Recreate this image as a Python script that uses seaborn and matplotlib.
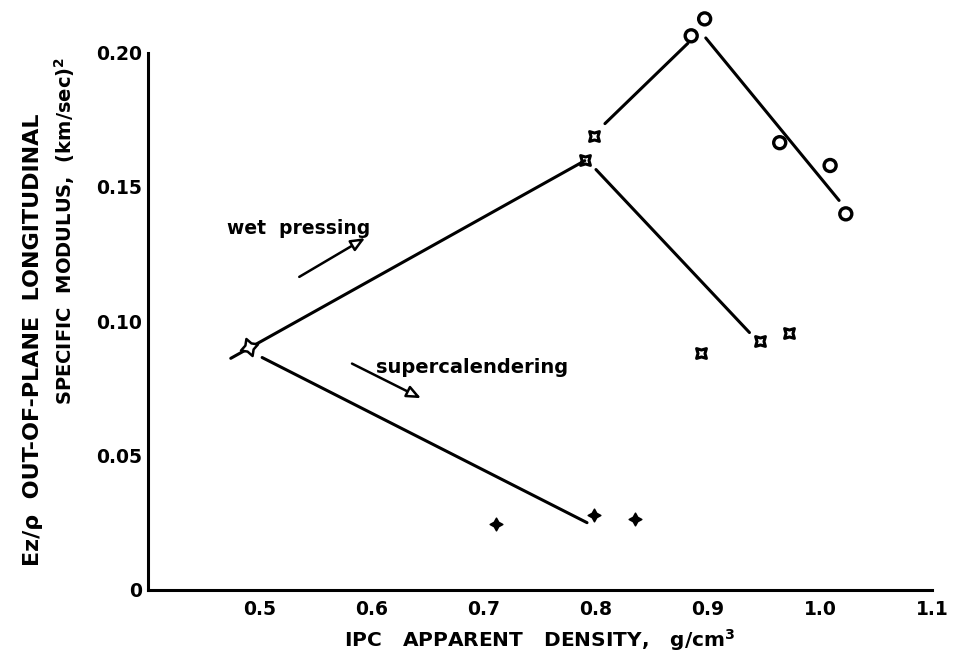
import matplotlib
matplotlib.use("Agg")
import matplotlib.pyplot as plt
import seaborn as sns
import pandas as pd

circle_x = [0.885, 0.897, 0.964, 1.009, 1.023]
circle_y = [0.2063, 0.2126, 0.1665, 0.1580, 0.1400]

cross_x = [0.790, 0.798, 0.894, 0.946, 0.972]
cross_y = [0.1600, 0.1690, 0.0880, 0.0925, 0.0958]

plus_x = [0.711, 0.798, 0.835]
plus_y = [0.0245, 0.0278, 0.0262]

start_x = [0.490]
start_y = [0.0905]

# hand-drawn trend lines (x pairs, y pairs)
wet_line_x = [0.474, 0.790]
wet_line_y = [0.0862, 0.1598]
wet_upper_x = [0.808, 0.882]
wet_upper_y = [0.1736, 0.2035]
super_line_x = [0.502, 0.792]
super_line_y = [0.0865, 0.0250]
circle_line_x = [0.898, 1.017]
circle_line_y = [0.2055, 0.1450]
cross_line_x = [0.800, 0.937]
cross_line_y = [0.1565, 0.0958]

x_ticks = [0.5, 0.6, 0.7, 0.8, 0.9, 1.0, 1.1]
x_labels = ["0.5", "0.6", "0.7", "0.8", "0.9", "1.0", "1.1"]
y_ticks = [0, 0.05, 0.10, 0.15, 0.20]
y_labels = ["0", "0.05", "0.10", "0.15", "0.20"]

sns.set_theme(style="white")
plt.rcParams["font.family"] = ["DejaVu Sans"]
plt.rcParams["font.weight"] = "bold"
plt.rcParams["text.color"] = "black"
plt.rcParams["axes.labelcolor"] = "black"
plt.rcParams["xtick.color"] = "black"
plt.rcParams["ytick.color"] = "black"

fig = plt.figure(figsize=(9.54, 6.59), dpi=100)
ax = fig.add_axes([0.155, 0.105, 0.822, 0.815])

for lx, ly in [(wet_line_x, wet_line_y), (wet_upper_x, wet_upper_y),
               (super_line_x, super_line_y), (circle_line_x, circle_line_y),
               (cross_line_x, cross_line_y)]:
    sns.lineplot(x=lx, y=ly, ax=ax, color="black", lw=2.2, sort=False,
                 clip_on=False)

sns.scatterplot(x=circle_x, y=circle_y, ax=ax, marker="o", s=75,
                facecolor="none", edgecolor="black", linewidth=2.4,
                clip_on=False)
sns.scatterplot(x=cross_x, y=cross_y, ax=ax, marker=(4, 1, 45), s=100,
                color="white", edgecolor="black", linewidth=2.2,
                clip_on=False)
sns.scatterplot(x=plus_x, y=plus_y, ax=ax, marker=(4, 1, 0), s=80,
                color="black", edgecolor="black", linewidth=1.2,
                clip_on=False)
sns.scatterplot(x=start_x, y=start_y, ax=ax, marker=(4, 1, 20), s=170,
                color="white", edgecolor="black", linewidth=1.8, zorder=5,
                clip_on=False)

ax.annotate("", xy=(0.596, 0.1315), xytext=(0.533, 0.1160),
            arrowprops=dict(arrowstyle="-|>,head_length=0.7,head_width=0.3",
                            fc="white", ec="black", lw=1.8))
ax.text(0.471, 0.1345, "wet  pressing", fontsize=13.5, fontweight="bold",
        va="center", ha="left")
ax.annotate("", xy=(0.646, 0.0709), xytext=(0.580, 0.0847),
            arrowprops=dict(arrowstyle="-|>,head_length=0.7,head_width=0.3",
                            fc="white", ec="black", lw=1.8))
ax.text(0.604, 0.0826, "supercalendering", fontsize=14, fontweight="bold",
        va="center", ha="left")

ax.set_xlim(0.40, 1.10)
ax.set_ylim(0, 0.20)
ax.set_xticks(x_ticks)
ax.set_xticklabels(x_labels, fontsize=13.5, fontweight="bold")
ax.set_yticks(y_ticks)
ax.set_yticklabels(y_labels, fontsize=13.5, fontweight="bold")
ax.tick_params(axis="both", direction="in", length=9, width=1.8, color="black")
ax.tick_params(axis="x", pad=7)
ax.tick_params(axis="y", pad=4)
sns.despine(ax=ax)
for side in ["left", "bottom"]:
    ax.spines[side].set_linewidth(2.2)
    ax.spines[side].set_color("black")

ax.set_xlabel("IPC   APPARENT   DENSITY,   g/cm$^\\mathbf{3}$", fontsize=14.5,
              fontweight="bold", labelpad=6)
fig.text(0.035, 0.485, "Ez/\u03c1  OUT-OF-PLANE  LONGITUDINAL", rotation=90,
         fontsize=16, fontweight="bold", ha="center", va="center")
fig.text(0.068, 0.65, "SPECIFIC  MODULUS,  (km/sec)$^\\mathbf{2}$", rotation=90,
         fontsize=14, fontweight="bold", ha="center", va="center")

fig.savefig("out.png", dpi=100)
